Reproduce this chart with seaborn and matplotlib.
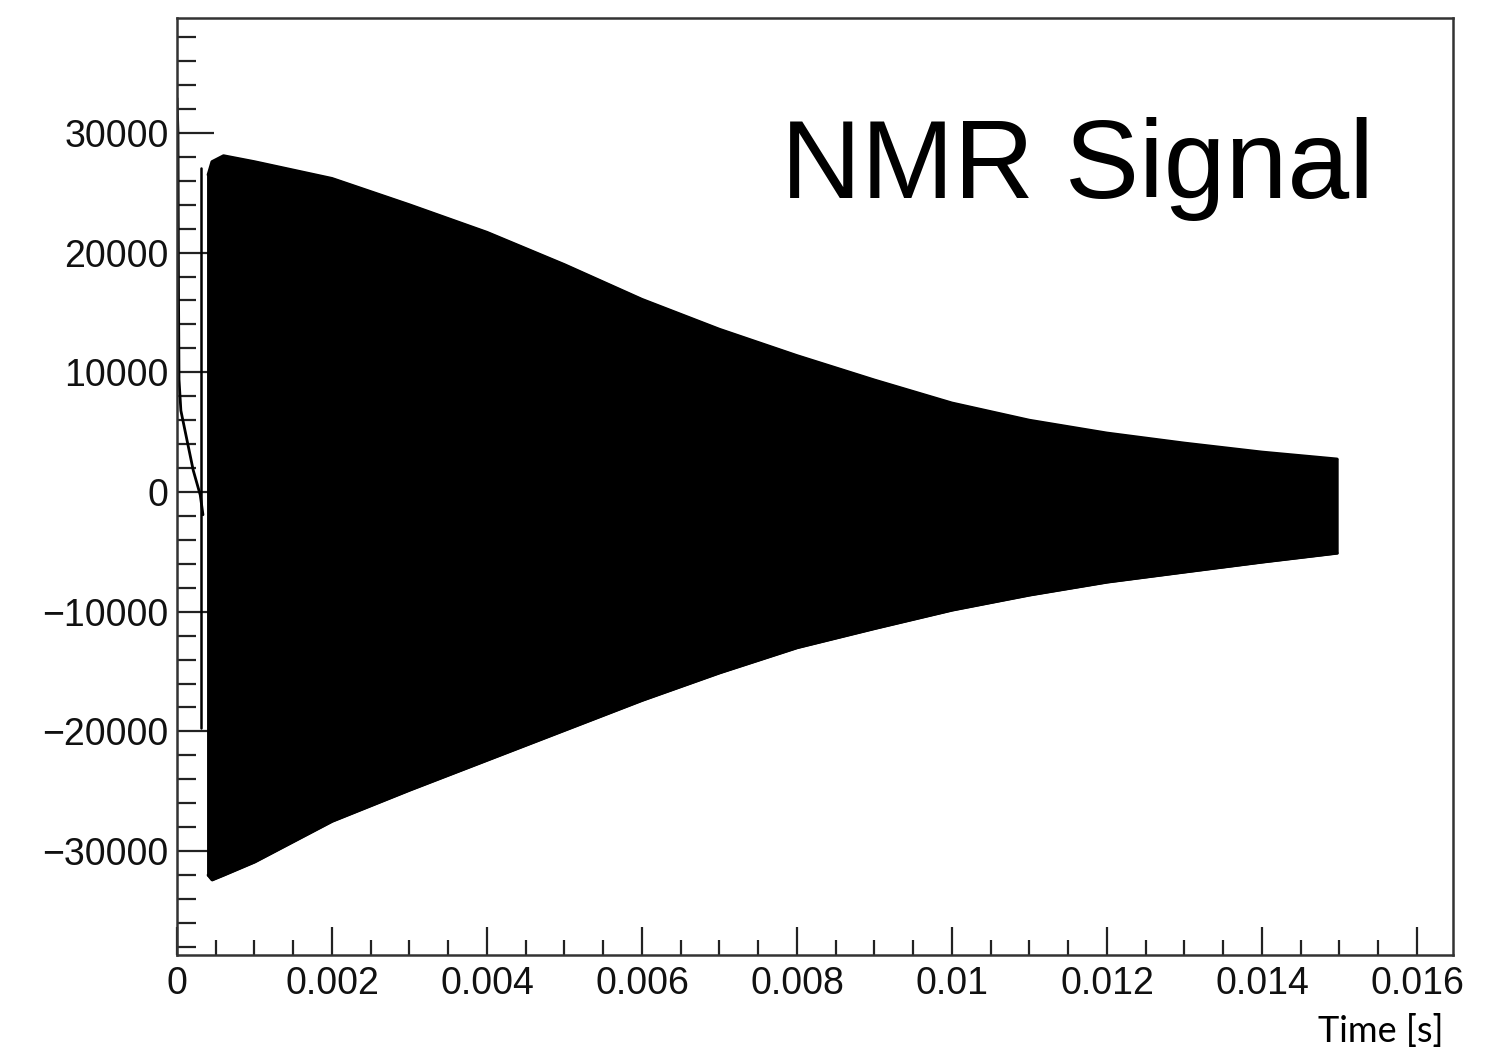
import numpy as np
import pandas as pd
import matplotlib
matplotlib.use("Agg")
import matplotlib.pyplot as plt
from matplotlib.ticker import MultipleLocator, FuncFormatter
import seaborn as sns

# ---- data ----
# initial transient (time [s], amplitude)
t_init = [0.0, 0.000013, 0.00002, 0.000026, 0.00005, 0.00013, 0.00021, 0.0003, 0.000335]
v_init = [32900, 30000, 16000, 9400, 6800, 4300, 1800, -250, -1900]

# short spike before the main signal
t_spike = [0.000316, 0.000316]
v_spike = [27070, -19700]

# envelope of the dense oscillating NMR signal
t_env = [0.00040, 0.00045, 0.0006, 0.001, 0.002, 0.003, 0.004, 0.005, 0.006,
         0.007, 0.008, 0.009, 0.010, 0.011, 0.012, 0.013, 0.014, 0.01497]
upper_env = [26500, 27600, 28100, 27600, 26200, 24000, 21700, 19000, 16100,
             13600, 11400, 9360, 7440, 6000, 4930, 4090, 3340, 2760]
lower_env = [-32000, -32400, -32000, -30900, -27500, -24900, -22400, -19900, -17400,
             -15100, -13000, -11400, -9860, -8600, -7520, -6680, -5850, -5100]

x_ticks = [0, 0.002, 0.004, 0.006, 0.008, 0.010, 0.012, 0.014, 0.016]
y_ticks = [-30000, -20000, -10000, 0, 10000, 20000, 30000]

# ---- figure ----
sns.set_style("ticks")
plt.rcParams['font.family'] = ['Liberation Sans', 'DejaVu Sans']

W, H = 1511, 1053
fig = plt.figure(figsize=(W / 100, H / 100), dpi=100)
ax = fig.add_axes([177 / W, 1 - 955 / H, (1453 - 177) / W, (955 - 18) / H])

line_kw = dict(ax=ax, color="black", estimator=None, sort=False, errorbar=None)

env = pd.DataFrame({"t": t_env, "upper": upper_env, "lower": lower_env})
ax.fill_between(env["t"], env["lower"], env["upper"], color="black", linewidth=1.5)
sns.lineplot(data=env, x="t", y="upper", linewidth=2, **line_kw)
sns.lineplot(data=env, x="t", y="lower", linewidth=2, **line_kw)
# left edge of the oscillation block
sns.lineplot(x=[t_env[0], t_env[0]], y=[lower_env[0], upper_env[0]], linewidth=2, **line_kw)

init = pd.DataFrame({"t": t_init, "v": v_init})
sns.lineplot(data=init, x="t", y="v", linewidth=2, **line_kw)
sns.lineplot(x=t_spike, y=v_spike, linewidth=1.8, **line_kw)

ax.set_xlim(0, 0.016465)
ax.set_ylim(-38680, 39600)
ax.set_xlabel("")
ax.set_ylabel("")

ax.set_xticks(x_ticks)
ax.set_yticks(y_ticks)
ax.xaxis.set_minor_locator(MultipleLocator(0.0005))
ax.yaxis.set_minor_locator(MultipleLocator(2000))
ax.xaxis.set_major_formatter(FuncFormatter(lambda v, p: "0" if abs(v) < 1e-12 else f"{v:g}"))
ax.yaxis.set_major_formatter(FuncFormatter(lambda v, p: f"{int(round(v))}".replace("-", "\u2212")))

ax.tick_params(axis="both", which="both", direction="in", colors="#222222", width=1.6,
               top=False, right=False, labelsize=27)
ax.tick_params(axis="y", which="major", length=26.5, pad=6)
ax.tick_params(axis="y", which="minor", length=14)
ax.tick_params(axis="x", which="major", length=20, pad=8)
ax.tick_params(axis="x", which="minor", length=10.5)
for lab in ax.get_xticklabels() + ax.get_yticklabels():
    lab.set_color("#111111")

for s in ax.spines.values():
    s.set_color("#333333")
    s.set_linewidth(1.8)

fig.text(781 / W, 1 - 198 / H, "NMR Signal", fontsize=80, ha="left", va="baseline",
         color="black", family=["Liberation Sans", "DejaVu Sans"])
fig.text(1443 / W, 1 - 1042 / H, "Time [s]", fontsize=26, ha="right", va="baseline",
         color="black", family=["Lato", "DejaVu Sans"])

fig.savefig("out.png", dpi=100, facecolor="white")
